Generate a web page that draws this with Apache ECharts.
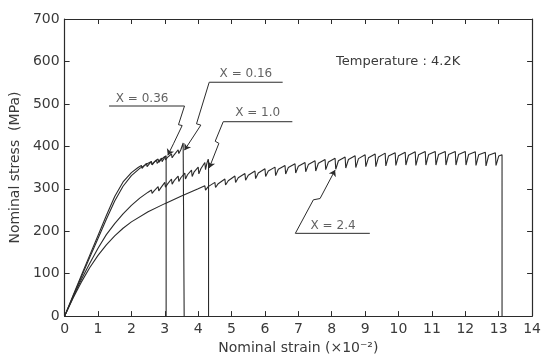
<!DOCTYPE html>
<html>
<head>
<meta charset="utf-8">
<script src="https://cdn.jsdelivr.net/npm/echarts@6/dist/echarts.min.js"></script>
<style>html,body{margin:0;padding:0;background:#fff}#c{width:544px;height:360px}</style>
</head>
<body>
<div id="c"></div>
<script>
// ---- data (strain ×10^-2, nominal stress MPa) ----
var xTicks = [0,1,2,3,4,5,6,7,8,9,10,11,12,13,14];
var yTicks = [0,100,200,300,400,500,600,700];

var curveX036 = [[0,0],[0.25,48],[0.5,96],[0.75,143],[1.0,190],[1.25,237],[1.5,282],[1.75,316],[2.0,338],[2.2,350],
  [2.3,355],[2.32,348],[2.38,354],[2.45,360],[2.47,352],[2.53,358],[2.6,364],[2.62,356],[2.68,362],
  [2.75,368],[2.77,360],[2.83,366],[2.9,372],[2.92,364],[2.98,372],[3.04,378],[3.04,0]];

var curveX016 = [[0,0],[0.25,46],[0.5,92],[0.75,138],[1.0,183],[1.25,228],[1.5,271],[1.75,306],[2.0,331],[2.25,348],[2.5,360],
  [2.6,364],[2.62,357],[2.68,363],[2.8,370],[2.82,362],[2.88,368],[3.0,376],[3.02,368],[3.08,374],
  [3.2,382],[3.22,373],[3.28,380],[3.4,392],[3.42,383],[3.48,392],[3.55,408],[3.58,404],[3.58,0]];

var curveX10 = [[0,0],[0.25,44],[0.5,86],[0.75,124],[1.0,160],[1.25,192],[1.5,218],[1.75,241],[2.0,261],[2.25,278],[2.5,292],
  [2.6,297],[2.62,289],[2.68,295],[2.8,305],[2.82,295],[2.88,302],[3.0,315],[3.02,304],[3.08,311],
  [3.2,323],[3.22,311],[3.28,319],[3.4,330],[3.42,317],[3.48,326],[3.6,337],[3.62,323],[3.68,333],
  [3.8,344],[3.82,329],[3.88,340],[4.0,351],[4.02,335],[4.08,347],[4.2,362],[4.22,345],[4.26,360],
  [4.3,370],[4.31,365],[4.31,0]];

var curveX24 = [[0,0],[0.25,42],[0.5,80],[0.75,114],[1.0,143],[1.25,168],[1.5,189],[1.75,207],[2.0,222],[2.5,246],[3.0,265],[3.5,283],[4.0,300],
  [4.2,307],[4.22,297],[4.3,305],[4.5,315],[4.52,303],[4.6,312],[4.8,323],[4.82,309],[4.9,319],
  [5.1,330],[5.12,315],[5.2,326],[5.4,336],[5.42,320],[5.5,332],[5.7,342],[5.72,324],[5.8,337],
  [6.0,347],[6.02,329],[6.1,342],[6.3,351],[6.32,331],[6.4,346],[6.6,355],[6.62,335],[6.7,350],
  [6.9,359],[6.92,337],[7.0,353],[7.2,362],[7.22,340],[7.3,357],[7.5,366],[7.52,342],[7.6,360],
  [7.8,369],[7.82,345],[7.9,363],[8.1,372],[8.12,346],[8.2,366],[8.4,375],[8.42,349],[8.5,369],
  [8.7,378],[8.72,350],[8.8,371],[9.0,380],[9.02,352],[9.1,373],[9.3,382],[9.32,352],[9.4,375],
  [9.6,384],[9.62,354],[9.7,377],[9.9,385],[9.92,355],[10.0,378],[10.2,386],[10.22,356],[10.3,379],
  [10.5,387],[10.52,355],[10.6,380],[10.8,388],[10.82,356],[10.9,381],[11.1,388],[11.12,356],[11.2,381],
  [11.4,388],[11.42,356],[11.5,381],[11.7,388],[11.72,356],[11.8,381],[12.0,388],[12.02,356],[12.1,381],
  [12.3,387],[12.32,355],[12.4,380],[12.6,386],[12.62,354],[12.7,379],[12.9,385],[12.92,355],[13.0,377],
  [13.1,380],[13.1,0]];

// leader lines (data coords) and labels
var leaderX036 = [[1.33,495],[3.59,495],[3.41,451],[3.52,449],[3.26,406],[3.09,379]];
var leaderX016 = [[6.53,551],[4.33,551],[3.95,453],[4.08,450],[3.59,391]];
var leaderX10  = [[6.82,458],[4.75,458],[4.51,412],[4.62,407],[4.33,349]];
var leaderX24  = [[9.14,195],[6.91,195],[7.45,274],[7.65,277],[8.10,344]];

var labelNames = ['X = 0.36','X = 0.16','X = 1.0','X = 2.4'];
var labelPos = [[2.32,512],[5.43,570],[5.78,479],[8.04,212]];
var tempText = 'Temperature : 4.2K';
var xTitle = 'Nominal strain (\u00d710\u207b\u00b2)';
var yTitle = 'Nominal stress  (MPa)';

// ---- chart ----
var ink = '#2b2b2b';
var txt = '#3a3a3a';
var font = 'DejaVu Sans';
var chart = echarts.init(document.getElementById('c'));

function curve(d){
  return {type:'line', data:d, showSymbol:false, symbol:'none', animation:false,
    lineStyle:{color:ink, width:1.1}, z:3};
}
var leaders = [leaderX036, leaderX016, leaderX10, leaderX24];
var polyData = leaders.map(function(d){ return {coords:d.slice(0, d.length-1)}; });
var tipData = leaders.map(function(d){ return {coords:[d[d.length-2], d[d.length-1]]}; });

var labelData = labelNames.map(function(n,i){ return [labelPos[i][0], labelPos[i][1], n]; });

chart.setOption({
  animation:false,
  backgroundColor:'#fff',
  title:{text:tempText, left:331, top:50, textStyle:{fontFamily:font, fontSize:13, fontWeight:'normal', color:txt}},
  grid:{left:62, right:10, top:19, bottom:40},
  xAxis:[{
    type:'value', min:xTicks[0], max:xTicks[xTicks.length-1], interval:1, position:'bottom',
    axisLine:{onZero:false, lineStyle:{color:ink, width:1.2}},
    axisTick:{inside:true, length:5, lineStyle:{color:ink}},
    splitLine:{show:false},
    axisLabel:{color:txt, fontFamily:font, fontSize:14, margin:6},
    name:xTitle, nameLocation:'middle', nameGap:23,
    nameTextStyle:{color:txt, fontFamily:font, fontSize:14}
  },{
    type:'value', min:0, max:14, interval:1, position:'top',
    axisLine:{show:true, onZero:false, lineStyle:{color:ink, width:1.2}},
    axisTick:{show:true, inside:true, length:5, lineStyle:{color:ink}},
    axisLabel:{show:false}, splitLine:{show:false}
  }],
  yAxis:[{
    type:'value', min:yTicks[0], max:yTicks[yTicks.length-1], interval:100, position:'left',
    axisLine:{show:true, onZero:false, lineStyle:{color:ink, width:1.2}},
    axisTick:{show:true, inside:true, length:5, lineStyle:{color:ink}},
    splitLine:{show:false},
    axisLabel:{color:txt, fontFamily:font, fontSize:14, margin:5},
    name:yTitle, nameLocation:'middle', nameGap:39,
    nameTextStyle:{color:txt, fontFamily:font, fontSize:14}
  },{
    type:'value', min:0, max:700, interval:100, position:'right',
    axisLine:{show:true, onZero:false, lineStyle:{color:ink, width:1.2}},
    axisTick:{show:true, inside:true, length:5, lineStyle:{color:ink}},
    axisLabel:{show:false}, splitLine:{show:false}
  }],
  series:[
    curve(curveX036), curve(curveX016), curve(curveX10), curve(curveX24),
    {type:'lines', coordinateSystem:'cartesian2d', polyline:true, animation:false,
      lineStyle:{color:ink, width:1, opacity:1}, data:polyData, z:4},
    {type:'lines', coordinateSystem:'cartesian2d', polyline:false, animation:false,
      symbol:['none','arrow'], symbolSize:[4,6],
      lineStyle:{color:ink, width:1, opacity:1, curveness:0}, data:tipData, z:4},
    {type:'scatter', data:labelData, symbolSize:0, animation:false, silent:true,
      label:{show:true, position:'inside', formatter:function(p){return p.value[2];},
        color:txt, fontFamily:font, fontSize:12}}
  ]
});
</script>
</body>
</html>
